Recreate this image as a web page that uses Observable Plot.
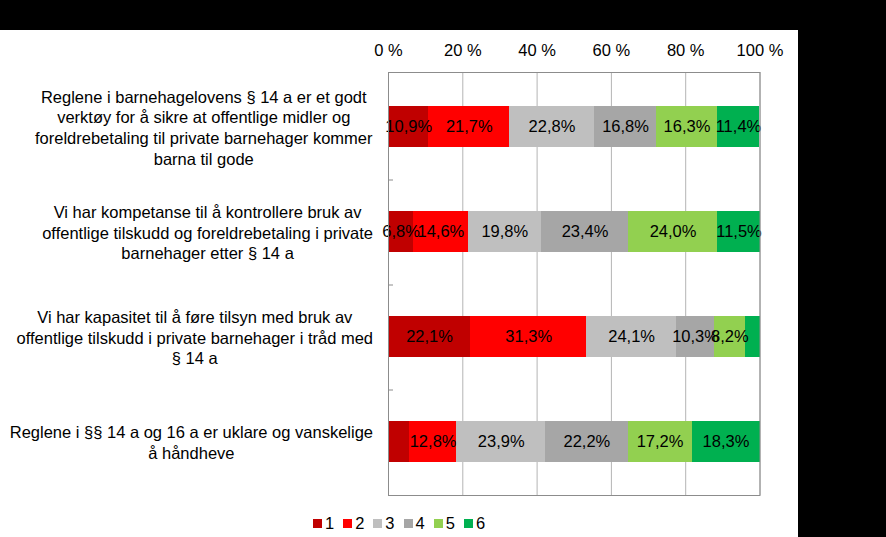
<!DOCTYPE html>
<html><head><meta charset="utf-8">
<script src="https://cdn.jsdelivr.net/npm/d3@7"></script>
<script src="https://cdn.jsdelivr.net/npm/@observablehq/plot@0.6"></script>
<style>
html,body{margin:0;padding:0;background:#000;width:886px;height:537px;overflow:hidden;font-family:"Liberation Sans",Arial,sans-serif}
#panel{position:absolute;left:0;top:30px;width:798px;height:507px;background:#fff}
#chart{position:absolute;left:0;top:0}
#legend{position:absolute;left:0;top:480px;width:798px;height:26px;display:flex;justify-content:center;align-items:center;font-size:16.5px;color:#000}
#legend .it{display:flex;align-items:center;margin:0 4.5px}
#legend .sw{width:9px;height:9px;margin-right:3px;display:inline-block}
</style></head>
<body>
<div id="panel"><div id="chart"></div><div id="legend"></div></div>
<script>
const questions = [
  "Reglene i barnehagelovens § 14 a er et godt\nverktøy for å sikre at offentlige midler og\nforeldrebetaling til private barnehager kommer\nbarna til gode",
  "Vi har kompetanse til å kontrollere bruk av\noffentlige tilskudd og foreldrebetaling i private\nbarnehager etter § 14 a",
  "Vi har kapasitet til å føre tilsyn med bruk av\noffentlige tilskudd i private barnehager i tråd med\n§ 14 a",
  "Reglene i §§ 14 a og 16 a er uklare og vanskelige\nå håndheve"
];
const levels = ["1", "2", "3", "4", "5", "6"];
const colors = ["#C00000", "#FF0000", "#BFBFBF", "#A6A6A6", "#92D050", "#00B050"];
const level1 = [10.9, 6.8, 22.1, 5.6];
const level2 = [21.7, 14.6, 31.3, 12.8];
const level3 = [22.8, 19.8, 24.1, 23.9];
const level4 = [16.8, 23.4, 10.3, 22.2];
const level5 = [16.3, 24.0, 8.2, 17.2];
const level6 = [11.4, 11.5, 4.0, 18.3];
const xTicks = [0, 20, 40, 60, 80, 100];

const series = [level1, level2, level3, level4, level5, level6];
const rows = [];
questions.forEach((q, i) => levels.forEach((l, j) => rows.push({q, level: l, value: series[j][i]})));
const fmt = v => v.toFixed(1).replace(".", ",") + "%";

const chart = Plot.plot({
  width: 798, height: 480,
  marginTop: 42, marginBottom: 15, marginLeft: 388, marginRight: 38.5,
  style: {fontFamily: '"Liberation Sans", Arial, sans-serif', background: "transparent", color: "#000"},
  x: {domain: [0, 100], axis: null, label: null},
  y: {domain: questions, axis: null, paddingInner: 0.612, paddingOuter: 0.306},
  color: {domain: levels, range: colors},
  marks: [
    Plot.gridX(xTicks, {stroke: "#B4B4B4", strokeOpacity: 1}),
    Plot.barX(rows, Plot.stackX({x: "value", y: "q", fill: "level", shapeRendering: "crispEdges"})),
    Plot.text(rows, Plot.stackX({x: "value", y: "q", z: "level", text: d => d.value >= 6 ? fmt(d.value) : null, fontSize: 16.5, fill: "#000"})),
    Plot.frame({stroke: "#8C8C8C"}),
    Plot.ruleY(questions.slice(0, 3), {y: d => d, x1: 0, x2: 0, insetRight: -5, dy: 53, stroke: "#8C8C8C"}),
    Plot.axisX(xTicks, {anchor: "top", label: null, tickSize: 0, tickPadding: 17, fontSize: 16.5, tickFormat: d => `${d} %`}),
    Plot.text(questions, {y: d => d, text: d => d, frameAnchor: "left", textAnchor: "middle", lineHeight: 1.25, fontSize: 16.5, fill: "#000", className: "qlab"})
  ]
});
document.getElementById("chart").appendChild(chart);

// right-align each category label block at x = 373 (lines centered within block)
const svgRect = chart.getBoundingClientRect();
chart.querySelectorAll(".qlab text").forEach(t => {
  const r = t.getBoundingClientRect();
  const shift = 373 - (r.right - svgRect.left);
  t.setAttribute("transform", (t.getAttribute("transform") || "") + ` translate(${shift},0)`);
});

const legend = document.getElementById("legend");
levels.forEach((l, i) => {
  const it = document.createElement("span");
  it.className = "it";
  const sw = document.createElement("span");
  sw.className = "sw";
  sw.style.background = colors[i];
  it.appendChild(sw);
  it.appendChild(document.createTextNode(l));
  legend.appendChild(it);
});
</script>
</body></html>
